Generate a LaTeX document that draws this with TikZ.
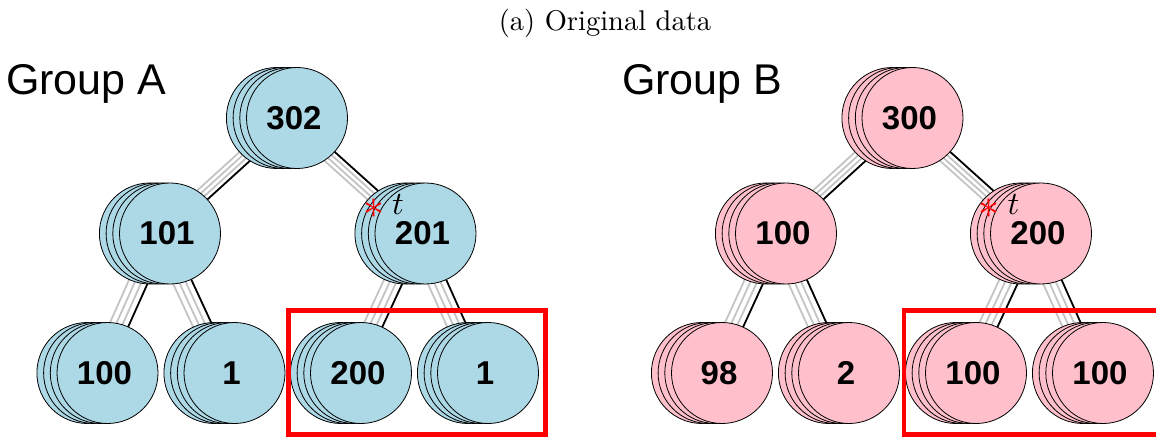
\documentclass[tikz,border=0pt]{standalone}
\usepackage{fontspec}
\usepackage{graphicx}
\newfontfamily\arialf{Liberation Sans}
\usetikzlibrary{backgrounds}
\definecolor{nodeblue}{HTML}{ADD8E6}
\definecolor{nodepink}{HTML}{FFC0CB}
\definecolor{edgegray}{HTML}{C4C4C4}
\tikzset{
  disc/.style={circle, draw=black, line width=0.8pt, minimum size=101pt, inner sep=0pt},
  numtxt/.style={font=\arialf\bfseries\fontsize{33}{36}\selectfont, inner sep=0pt},
  grouplbl/.style={font=\arialf\fontsize{43}{48}\selectfont, anchor=base west, inner sep=0pt},
  backedge/.style={draw=edgegray, line width=1.8pt},
  frontedge/.style={draw=black, line width=1.8pt},
  redbox/.style={draw=red, line width=4.5pt},
  marktxt/.style={inner sep=0pt},
}
\newcommand\mystack[5]{%
  \foreach \k in {3,2,1} {\node[disc, fill=#5] (#1-\k) at ({#2-6.7*\k},#3) {};}
  \node[disc, fill=#5] (#1-0) at (#2,#3) {};
  \node[numtxt] (#1-t) at ([xshift=-3pt]#1-0.center) {#4};
}
\newcommand\myedge[2]{%
  \foreach \k in {3,2,1} {\draw[backedge] (#1-\k.center) -- (#2-\k.center);}
  \draw[frontedge] (#1-0.center) -- (#2-0.center);
}
\begin{document}
\begin{tikzpicture}[x=1pt,y=-1pt]
\useasboundingbox (0,0) rectangle (1156,438);
\node[inner sep=0pt] (title) at (605,23.5) {\scalebox{2.85}{(a) Original data}};
\node[grouplbl] (ga) at (6,95) {Group A};
\node[grouplbl] (gb) at (622,95) {Group B};
% Group A
\mystack{a1}{297}{118}{302}{nodeblue}
\mystack{a2}{170}{233.5}{101}{nodeblue}
\mystack{a3}{425.5}{233.5}{201}{nodeblue}
\mystack{a4}{107.5}{373}{100}{nodeblue}
\mystack{a5}{234.5}{373}{1}{nodeblue}
\mystack{a6}{361}{373}{200}{nodeblue}
\mystack{a7}{488}{373}{1}{nodeblue}
% Group B
\mystack{b1}{912.5}{118}{300}{nodepink}
\mystack{b2}{786}{233.5}{100}{nodepink}
\mystack{b3}{1041}{233.5}{200}{nodepink}
\mystack{b4}{722}{373}{98}{nodepink}
\mystack{b5}{849}{373}{2}{nodepink}
\mystack{b6}{976}{373}{100}{nodepink}
\mystack{b7}{1103}{373}{100}{nodepink}
\begin{pgfonlayer}{background}
\myedge{a1}{a2}\myedge{a1}{a3}\myedge{a2}{a4}\myedge{a2}{a5}\myedge{a3}{a6}\myedge{a3}{a7}
\myedge{b1}{b2}\myedge{b1}{b3}\myedge{b2}{b4}\myedge{b2}{b5}\myedge{b3}{b6}\myedge{b3}{b7}
\end{pgfonlayer}
\node[marktxt, text=red] (aast) at (373.5,209) {\scalebox{4.2}{$\ast$}};
\node[marktxt] (at) at (398,205) {\scalebox{3.25}{$t$}};
\node[marktxt, text=red] (bast) at (989,209) {\scalebox{4.2}{$\ast$}};
\node[marktxt] (bt) at (1013.5,205) {\scalebox{3.25}{$t$}};
\draw[redbox] (288.5,310.5) rectangle (545.5,434.5);
\draw[redbox] (904,310.5) rectangle (1161,434.5);
\end{tikzpicture}
\end{document}
